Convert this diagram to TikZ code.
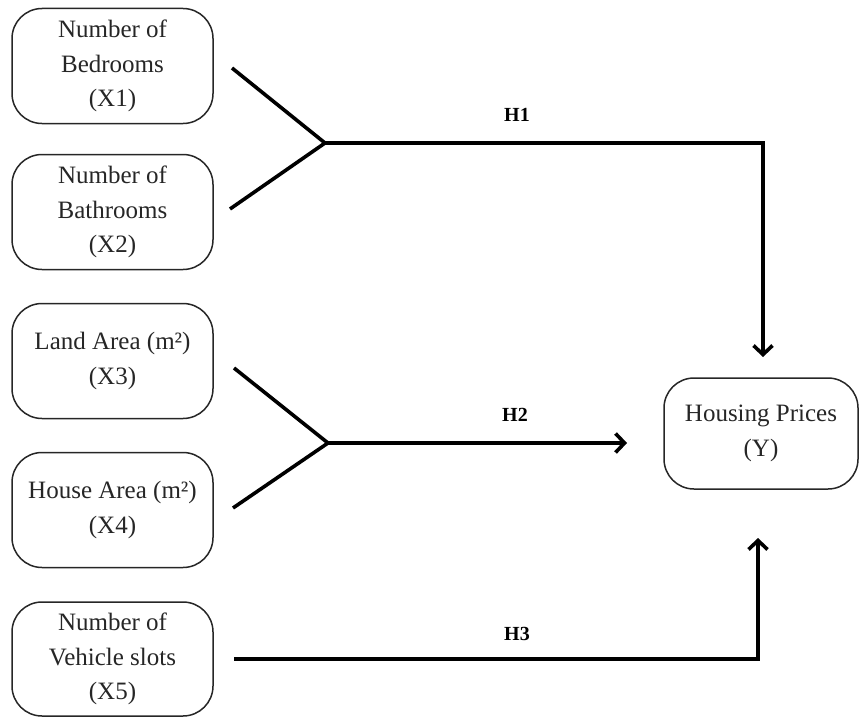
\documentclass[tikz,border=0pt]{standalone}
\usepackage{fontspec}
\setmainfont{Liberation Serif}
\usetikzlibrary{arrows.meta}
\begin{document}
\begin{tikzpicture}[x=1pt,y=-1pt,
  varbox/.style={draw=black!85,line width=1.5pt,rounded corners=30pt,minimum width=201pt,
    minimum height=115pt,align=center,inner sep=0pt,font=\fontsize{25}{34.5}\selectfont,text=black!85},
  conn/.style={line width=3.6pt,black},
  arr/.style={conn,-{Straight Barb[length=9pt,width=19pt,line width=3.6pt]}},
  hlab/.style={font=\fontsize{20}{24}\selectfont\bfseries}]
\useasboundingbox (0,0) rectangle (861,717);
\node[varbox] (x1) at (112.5,66) {Number of\\Bedrooms\\(X1)};
\node[varbox] (x2) at (112.5,212) {Number of\\Bathrooms\\(X2)};
\node[varbox] (x3) at (112.5,361) {Land Area (m²)\\(X3)};
\node[varbox] (x4) at (112.5,510) {House Area (m²)\\(X4)};
\node[varbox,minimum height=114pt] (x5) at (112.5,659) {Number of\\Vehicle slots\\(X5)};
\node[varbox,minimum width=194pt,minimum height=111pt] (y) at (761,433.5) {Housing Prices\\(Y)};
% fork 1
\coordinate (a1) at (232,68);
\coordinate (a2) at (230,209);
\coordinate (j1) at (325,143);
\coordinate (c1) at (763,143);
\coordinate (t1) at (763,357);
\draw[conn] (a1) -- (j1) -- (a2);
\draw[arr] (j1) -- (c1) -- (t1);
% fork 2
\coordinate (b1) at (234,368);
\coordinate (b2) at (233,508);
\coordinate (j2) at (328,443);
\coordinate (t2) at (627,443);
\draw[conn] (b1) -- (j2) -- (b2);
\draw[arr] (j2) -- (t2);
% H3
\coordinate (s3) at (234,659);
\coordinate (c3) at (758,659);
\coordinate (t3) at (758,538);
\draw[arr] (s3) -- (c3) -- (t3);
\node[hlab] (h1) at (517,115) {H1};
\node[hlab] (h2) at (515,415) {H2};
\node[hlab] (h3) at (517,634) {H3};
\end{tikzpicture}
\end{document}
